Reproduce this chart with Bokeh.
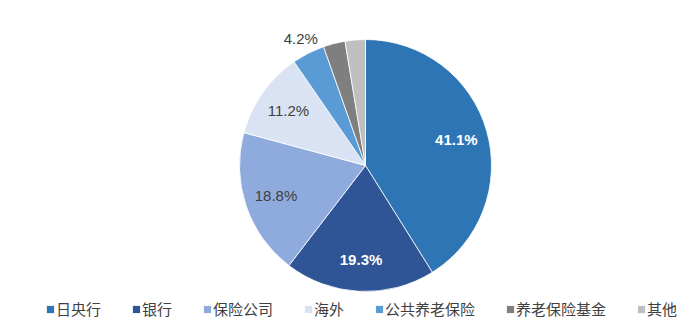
import math
from bokeh.plotting import figure
from bokeh.models import Range1d, ColumnDataSource, Legend, LegendItem
from bokeh.core.properties import value
from bokeh.embed import file_html
from bokeh.resources import INLINE

categories = ["日央行", "银行", "保险公司", "海外", "公共养老保险", "养老保险基金", "其他"]
shares = [41.1, 19.3, 18.8, 11.2, 4.2, 2.8, 2.6]
labels = ["41.1%", "19.3%", "18.8%", "11.2%", "4.2%", "", ""]
colors = ["#2E75B6", "#2F5597", "#8FAADC", "#DAE3F3", "#5B9BD5", "#7F7F7F", "#BFBFBF"]
label_colors = ["white", "white", "#404040", "#404040", "#404040", "#404040", "#404040"]
label_weights = ["bold", "bold", "normal", "normal", "normal", "normal", "normal"]

W, H = 700, 331
CX, CY, R = 365, 166, 126

total = sum(shares)
starts, ends, lx, ly = [], [], [], []
cum = 0.0
for s in shares:
    before = cum / total
    cum += s
    after = cum / total
    a0 = math.pi / 2 - 2 * math.pi * after
    a1 = math.pi / 2 - 2 * math.pi * before
    starts.append(a0)
    ends.append(a1)
    mid = (a0 + a1) / 2
    rr = R * 0.75 if s >= 10 else R * 1.13
    lx.append(CX + rr * math.cos(mid))
    ly.append(CY + rr * math.sin(mid))

src = ColumnDataSource(dict(name=categories, start=starts, end=ends, color=colors,
                            lx=lx, ly=ly, label=labels, lc=label_colors, lw=label_weights))

p = figure(width=W, height=H, output_backend="svg", toolbar_location=None,
           x_range=Range1d(0, W), y_range=Range1d(0, H), min_border=0)
p.axis.visible = False
p.grid.visible = False
p.outline_line_color = None
p.background_fill_color = "white"

wr = p.wedge(x=CX, y=CY, radius=R, start_angle="start", end_angle="end",
             fill_color="color", line_color="white", line_width=0.8, source=src)

p.text(x="lx", y="ly", text="label", text_color="lc", text_align="center",
       text_baseline="middle", text_font=value("Liberation Sans"),
       text_font_style="lw", text_font_size="15px", source=src)

items = [LegendItem(label=c, renderers=[wr], index=i) for i, c in enumerate(categories)]
legend = Legend(items=items, orientation="horizontal", location=(45, 12),
                glyph_width=10, glyph_height=10, label_height=16, label_standoff=1,
                spacing=30, padding=0, margin=0, border_line_color=None,
                background_fill_alpha=0, label_text_font="Noto Sans CJK SC",
                label_text_font_size="15px", label_text_color="#404040")
p.add_layout(legend, "center")

open("out.html", "w").write(file_html(p, INLINE))
